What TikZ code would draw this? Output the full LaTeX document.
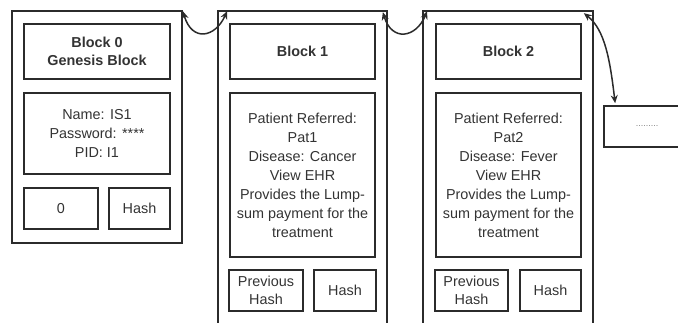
\documentclass[tikz,border=0pt]{standalone}
\usepackage{fontspec}
\setmainfont{Liberation Sans}
\usetikzlibrary{arrows.meta,calc}
\definecolor{ln}{HTML}{2B2B2B}
\definecolor{tx}{HTML}{333333}
\tikzset{
  box/.style={draw=ln,line width=1.7pt,rectangle,inner sep=0pt,text=tx,align=center,
    font=\fontsize{14.4}{19}\selectfont},
  titlebox/.style={box,font=\bfseries\fontsize{14.4}{18}\selectfont},
  link/.style={draw=ln,line width=1.5pt,{Stealth[length=8pt,width=7pt]}-{Stealth[length=8pt,width=7pt]}}
}
\begin{document}
\begin{tikzpicture}[x=1pt,y=-1pt]
\clip (0,0) rectangle (678,322);
\useasboundingbox (0,0) rectangle (678,322);
% outer blocks
\node[box,minimum width=170pt,minimum height=232pt] (o0) at (97,127) {};
\node[box,minimum width=169pt,minimum height=329pt] (o1) at (302.5,175.5) {};
\node[box,minimum width=170pt,minimum height=329pt] (o2) at (508,175.5) {};
% titles
\node[titlebox,minimum width=146pt,minimum height=55pt] (t0) at (97,51.5) {Block 0\\Genesis Block};
\node[titlebox,minimum width=145pt,minimum height=55pt] (t1) at (302.5,51.5) {Block 1};
\node[titlebox,minimum width=145pt,minimum height=55pt] (t2) at (508.5,51.5) {Block 2};
% data
\node[box,minimum width=146pt,minimum height=81pt] (d0) at (97,133.5) {Name: IS1\\Password: ****\\PID: I1};
\node[box,minimum width=145pt,minimum height=164pt] (d1) at (302.5,175) {Patient Referred:\\Pat1\\Disease: Cancer\\View EHR\\Provides the Lump-\\sum payment for the\\treatment};
\node[box,minimum width=145pt,minimum height=164pt] (d2) at (508.5,175) {Patient Referred:\\Pat2\\Disease: Fever\\View EHR\\Provides the Lump-\\sum payment for the\\treatment};
% bottom boxes
\node[box,minimum width=74pt,minimum height=41pt] (p0) at (61,208.5) {0};
\node[box,minimum width=61pt,minimum height=41pt] (h0) at (139.5,208.5) {Hash};
\node[box,minimum width=74pt,minimum height=41pt,font=\fontsize{14.4}{18}\selectfont] (p1) at (266,290.5) {Previous\\Hash};
\node[box,minimum width=62pt,minimum height=41pt] (h1) at (345,290.5) {Hash};
\node[box,minimum width=73pt,minimum height=41pt,font=\fontsize{14.4}{18}\selectfont] (p2) at (471.5,290.5) {Previous\\Hash};
\node[box,minimum width=61pt,minimum height=41pt] (h2) at (550.5,290.5) {Hash};
% continuation box
\node[box,minimum width=86pt,minimum height=41pt,text=gray,font=\fontsize{9}{10}\selectfont] (nx) at (647,126.5) {.........};
% links
\draw[link] ($(o0.north east)+(0,1)$) .. controls (192,42) and (215,38) .. ($(o1.north west)+(10,1)$);
\draw[link] ($(o1.north east)+(-5,2)$) .. controls (392,42) and (416,38) .. ($(o2.north west)+(5,1)$);
\draw[link] ($(o2.north east)+(-10,3)$) .. controls (605,30) and (610,60) .. ($(nx.north west)+(12,-2)$);
\end{tikzpicture}
\end{document}
